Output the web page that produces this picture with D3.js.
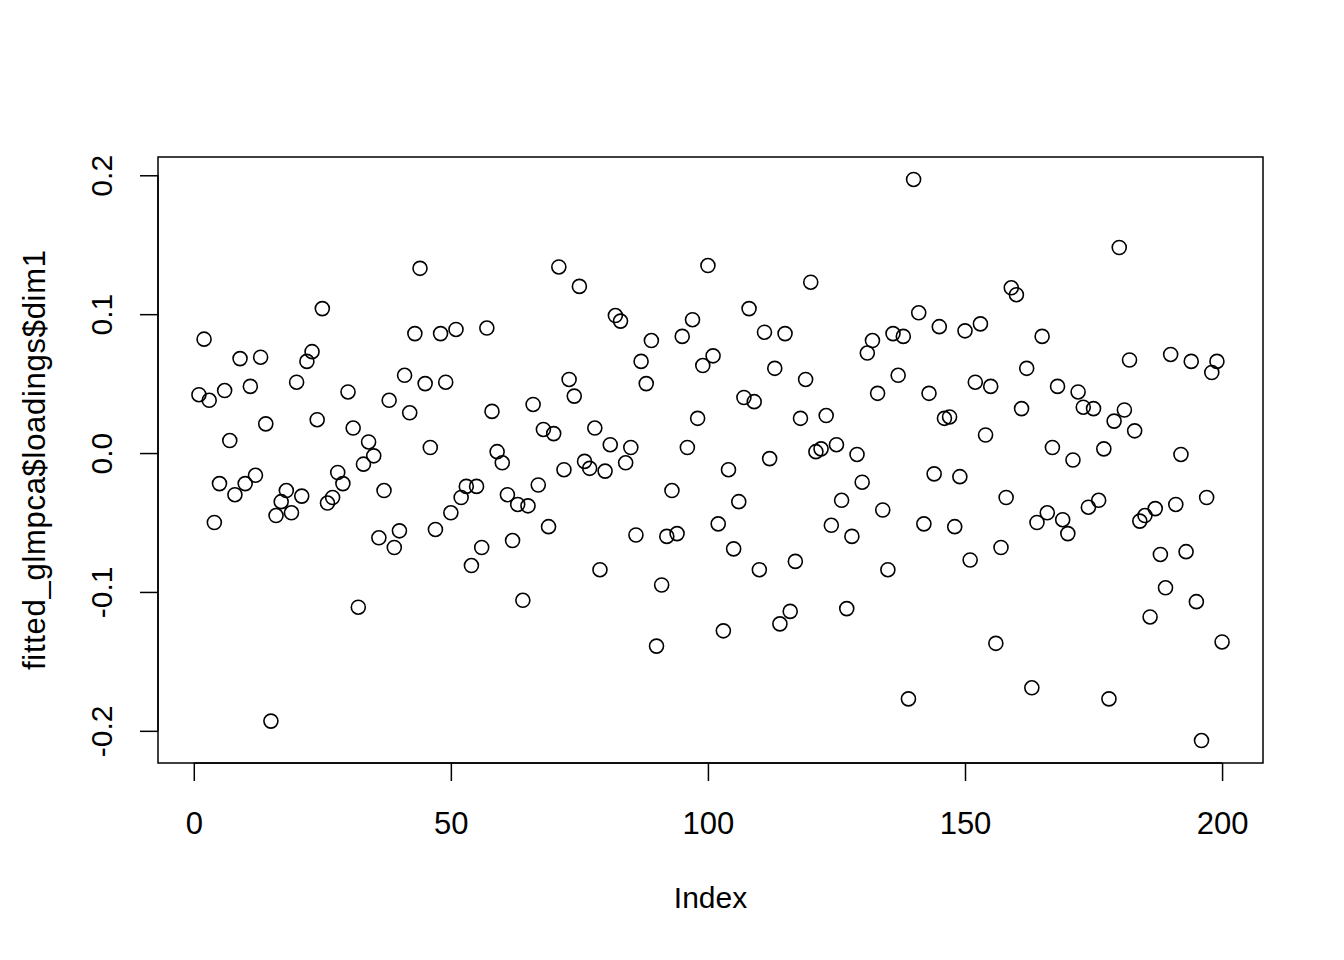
<!DOCTYPE html>
<html>
<head>
<meta charset="utf-8">
<script src="https://cdn.jsdelivr.net/npm/d3@7"></script>
<style>
  html, body { margin: 0; padding: 0; background: #fff; }
  svg { display: block; font-family: "Liberation Sans", Arial, Helvetica, sans-serif; }
</style>
</head>
<body>
<svg id="chart" width="1344" height="960"></svg>
<script>
// ---- data ----
const values = [
  0.042, 0.082, 0.038, -0.050, -0.022, 0.045, 0.009, -0.030, 0.068, -0.022,
  0.048, -0.016, 0.069, 0.021, -0.193, -0.045, -0.035, -0.027, -0.043, 0.051,
  -0.031, 0.066, 0.073, 0.024, 0.104, -0.036, -0.032, -0.014, -0.022, 0.044,
  0.018, -0.111, -0.008, 0.008, -0.002, -0.061, -0.027, 0.038, -0.068, -0.056,
  0.056, 0.029, 0.086, 0.133, 0.050, 0.004, -0.055, 0.086, 0.051, -0.043,
  0.089, -0.032, -0.024, -0.081, -0.024, -0.068, 0.090, 0.030, 0.001, -0.007,
  -0.030, -0.063, -0.037, -0.106, -0.038, 0.035, -0.023, 0.017, -0.053, 0.014,
  0.134, -0.012, 0.053, 0.041, 0.120, -0.006, -0.011, 0.018, -0.084, -0.013,
  0.006, 0.099, 0.095, -0.007, 0.004, -0.059, 0.066, 0.050, 0.081, -0.139,
  -0.095, -0.060, -0.027, -0.058, 0.084, 0.004, 0.096, 0.025, 0.063, 0.135,
  0.070, -0.051, -0.128, -0.012, -0.069, -0.035, 0.040, 0.104, 0.037, -0.084,
  0.087, -0.004, 0.061, -0.123, 0.086, -0.114, -0.078, 0.025, 0.053, 0.123,
  0.001, 0.003, 0.027, -0.052, 0.006, -0.034, -0.112, -0.060, -0.001, -0.021,
  0.072, 0.081, 0.043, -0.041, -0.084, 0.086, 0.056, 0.084, -0.177, 0.197,
  0.101, -0.051, 0.043, -0.015, 0.091, 0.025, 0.026, -0.053, -0.017, 0.088,
  -0.077, 0.051, 0.093, 0.013, 0.048, -0.137, -0.068, -0.032, 0.119, 0.114,
  0.032, 0.061, -0.169, -0.050, 0.084, -0.043, 0.004, 0.048, -0.048, -0.058,
  -0.005, 0.044, 0.033, -0.039, 0.032, -0.034, 0.003, -0.177, 0.023, 0.148,
  0.031, 0.067, 0.016, -0.049, -0.045, -0.118, -0.040, -0.073, -0.097, 0.071,
  -0.037, -0.001, -0.071, 0.066, -0.107, -0.207, -0.032, 0.058, 0.066, -0.136
];
const indices = values.map((v, i) => i + 1);
const xTicks = [0, 50, 100, 150, 200];
const yTicks = [-0.2, -0.1, 0.0, 0.1, 0.2];
const yTickLabels = ["-0.2", "-0.1", "0.0", "0.1", "0.2"];
const xTitle = "Index";
const yTitle = "fitted_glmpca$loadings$dim1";

// ---- layout ----
const plotLeft = 158, plotRight = 1263, plotTop = 157, plotBottom = 763;
const fontSize = 30;
const tickLen = 18;
const fontFam = "Liberation Sans, Arial, sans-serif";

const svg = d3.select("#chart");

// R-style 4% padding of data range
const xExt = d3.extent(indices), yExt = d3.extent(values);
const xPad = (xExt[1] - xExt[0]) * 0.04, yPad = (yExt[1] - yExt[0]) * 0.04;
const x = d3.scaleLinear().domain([xExt[0] - xPad, xExt[1] + xPad]).range([plotLeft, plotRight]);
const y = d3.scaleLinear().domain([yExt[0] - yPad, yExt[1] + yPad]).range([plotBottom, plotTop]);

// points
svg.append("g")
  .selectAll("circle")
  .data(values)
  .join("circle")
  .attr("cx", (d, i) => x(indices[i]))
  .attr("cy", d => y(d))
  .attr("r", 7)
  .attr("fill", "none")
  .attr("stroke", "#000")
  .attr("stroke-width", 1.6);

// x axis
const xAxis = svg.append("g")
  .attr("transform", `translate(0,${plotBottom})`)
  .call(d3.axisBottom(x).tickValues(xTicks).tickFormat(d3.format("d"))
        .tickSizeInner(tickLen).tickSizeOuter(0).tickPadding(31));
xAxis.select(".domain").attr("d", `M${x(xTicks[0])},0H${x(xTicks[xTicks.length-1])}`)
  .attr("stroke", "#000").attr("stroke-width", 1.5);
xAxis.selectAll(".tick line").attr("stroke", "#000").attr("stroke-width", 1.5);
xAxis.selectAll(".tick text").attr("font-size", 31)
  .attr("font-family", fontFam).attr("fill", "#000");

// y axis
const yAxis = svg.append("g")
  .attr("transform", `translate(${plotLeft},0)`)
  .call(d3.axisLeft(y).tickValues(yTicks).tickFormat((d, i) => yTickLabels[i])
        .tickSizeInner(tickLen).tickSizeOuter(0));
yAxis.select(".domain").attr("d", `M0,${y(yTicks[0])}V${y(yTicks[yTicks.length-1])}`)
  .attr("stroke", "#000").attr("stroke-width", 1.5);
yAxis.selectAll(".tick line").attr("stroke", "#000").attr("stroke-width", 1.5);
yAxis.selectAll(".tick text")
  .attr("font-size", fontSize)
  .attr("font-family", fontFam)
  .attr("fill", "#000")
  .attr("x", null).attr("dy", null)
  .attr("text-anchor", "middle")
  .attr("transform", `translate(${112 - plotLeft},0) rotate(-90)`);

// box
svg.append("rect")
  .attr("x", plotLeft).attr("y", plotTop)
  .attr("width", plotRight - plotLeft).attr("height", plotBottom - plotTop)
  .attr("fill", "none").attr("stroke", "#000").attr("stroke-width", 1.5);

// titles
svg.append("text")
  .attr("x", (plotLeft + plotRight) / 2).attr("y", 908)
  .attr("text-anchor", "middle").attr("font-size", fontSize)
  .attr("font-family", fontFam)
  .text(xTitle);

svg.append("text")
  .attr("transform", `translate(45,${(plotTop + plotBottom) / 2}) rotate(-90)`)
  .attr("text-anchor", "middle").attr("font-size", 31)
  .attr("font-family", fontFam)
  .attr("textLength", 420).attr("lengthAdjust", "spacing")
  .text(yTitle);
</script>
</body>
</html>
